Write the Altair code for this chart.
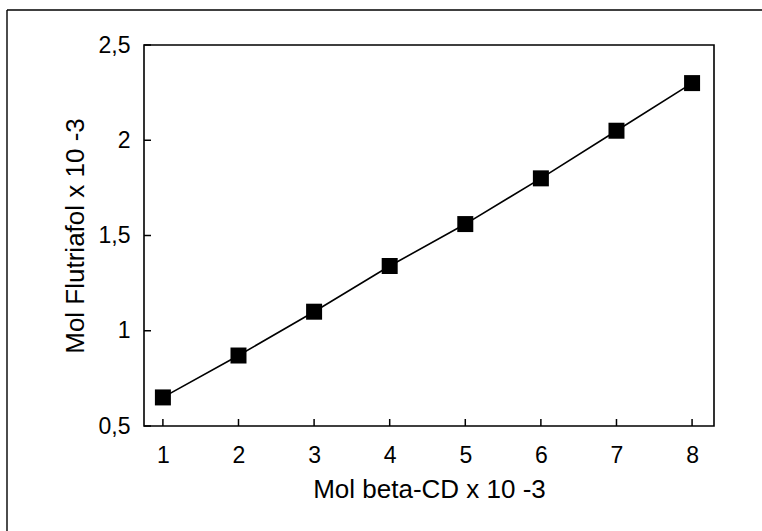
import altair as alt
import pandas as pd

# Data
beta_cd = [1, 2, 3, 4, 5, 6, 7, 8]
flutriafol = [0.65, 0.87, 1.10, 1.34, 1.56, 1.80, 2.05, 2.30]
x_ticks = [1, 2, 3, 4, 5, 6, 7, 8]
y_ticks = [0.5, 1.0, 1.5, 2.0, 2.5]

x_title = "Mol beta-CD x 10 -3"
y_title = "Mol Flutriafol x 10 -3"

FONT = "Liberation Sans"
W, H = 570, 381

df = pd.DataFrame({"x": beta_cd, "y": flutriafol})
xt = pd.DataFrame({"t": x_ticks})
yt = pd.DataFrame({"t": y_ticks})

xscale = alt.Scale(domain=[0.75, 8.29], nice=False, zero=False)
yscale = alt.Scale(domain=[0.5, 2.5], nice=False, zero=False)

xaxis = alt.Axis(
    values=x_ticks, ticks=False, domain=False, grid=False,
    labelFont=FONT, labelFontSize=23, labelColor="black", labelPadding=18,
    labelExpr="replace(toString(datum.value), '.', ',')",
    title=x_title, titleFont=FONT, titleFontSize=26, titleFontWeight="normal",
    titleColor="black", titlePadding=9,
)
yaxis = alt.Axis(
    values=y_ticks, ticks=False, domain=False, grid=False,
    labelFont=FONT, labelFontSize=23, labelColor="black", labelPadding=14,
    labelExpr="replace(toString(datum.value), '.', ',')",
    title=y_title, titleFont=FONT, titleFontSize=26, titleFontWeight="normal",
    titleColor="black", titlePadding=10,
)

line = alt.Chart(df).mark_line(color="black", strokeWidth=1.6).encode(
    x=alt.X("x:Q", scale=xscale, axis=xaxis),
    y=alt.Y("y:Q", scale=yscale, axis=yaxis),
)
points = alt.Chart(df).mark_point(
    shape="square", filled=True, color="black", size=256, opacity=1
).encode(x=alt.X("x:Q", scale=xscale), y=alt.Y("y:Q", scale=yscale))

xtick_marks = alt.Chart(xt).mark_rule(color="black", strokeWidth=1.5).encode(
    x=alt.X("t:Q", scale=xscale),
    y=alt.value(H),
    y2=alt.value(H - 7),
)
ytick_marks = alt.Chart(yt).mark_rule(color="black", strokeWidth=1.5).encode(
    y=alt.Y("t:Q", scale=yscale),
    x=alt.value(0),
    x2=alt.value(7),
)

# outer page frame (top and left edges visible)
frame_top = alt.Chart(xt.head(1)).mark_rule(color="black", strokeWidth=1.4).encode(
    x=alt.value(-137), x2=alt.value(W + 60), y=alt.value(-35)
)
frame_left = alt.Chart(xt.head(1)).mark_rule(color="black", strokeWidth=1.4).encode(
    x=alt.value(-137), y=alt.value(-35), y2=alt.value(H + 120)
)

chart = alt.layer(
    frame_top, frame_left, xtick_marks, ytick_marks, line, points
).properties(
    width=W, height=H,
    padding={"left": 144, "top": 45, "right": 48, "bottom": 105},
    autosize=alt.AutoSizeParams(type="none"),
    background="white",
).configure_view(stroke="black", strokeWidth=1.6)

chart.save("out.html", embed_options={"renderer": "svg", "actions": False})
